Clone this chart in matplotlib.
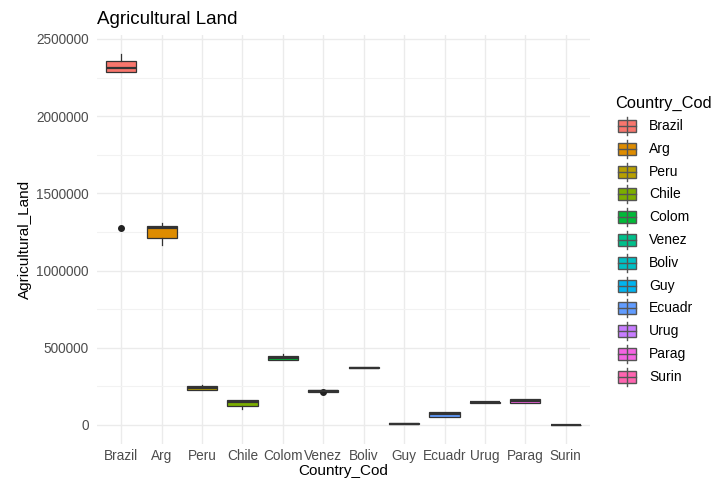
import matplotlib
matplotlib.use("Agg")
import matplotlib.pyplot as plt
from matplotlib.patches import Rectangle

plt.rcParams["font.family"] = ["Liberation Sans", "DejaVu Sans"]

countries = ["Brazil", "Arg", "Peru", "Chile", "Colom", "Venez",
             "Boliv", "Guy", "Ecuadr", "Urug", "Parag", "Surin"]
colors = ["#F8766D", "#DE8C00", "#B79F00", "#7CAE00", "#00BA38", "#00C08B",
          "#00BFC4", "#00B4F0", "#619CFF", "#C77CFF", "#F564E3", "#FF64B0"]

# box statistics
whis_lo = [2286000, 1166000, 227000, 104000, 423000, 216000, 366000, 6000, 54000, 144000, 144000, 1000]
q1 = [2286000, 1211000, 227000, 123000, 423000, 216000, 366000, 6000, 54000, 144000, 144000, 1000]
median = [2312000, 1276000, 240000, 149000, 436000, 220000, 371000, 8000, 70000, 149000, 156000, 2000]
q3 = [2357000, 1289000, 253000, 162000, 449000, 224000, 376000, 10000, 84000, 152000, 168000, 3000]
whis_hi = [2403000, 1308000, 259000, 162000, 462000, 224000, 376000, 10000, 84000, 152000, 168000, 3000]
fliers = [[1276000], [], [], [], [], [214000], [], [], [], [], [], []]

W, H = 713, 479
fig = plt.figure(figsize=(W / 100, H / 100), dpi=100)
ax = fig.add_axes([97 / W, 1 - 443.5 / H, (590 - 97) / W, (443.5 - 35.4) / H])

stats = []
for i in range(len(countries)):
    stats.append(dict(whislo=whis_lo[i], q1=q1[i], med=median[i], q3=q3[i],
                      whishi=whis_hi[i], fliers=fliers[i], label=countries[i]))

edge = "#333333"
bp = ax.bxp(stats, positions=range(1, 13), widths=0.75, patch_artist=True,
            showcaps=False,
            boxprops=dict(edgecolor=edge, linewidth=0.9),
            medianprops=dict(color=edge, linewidth=1.6),
            whiskerprops=dict(color=edge, linewidth=0.9),
            flierprops=dict(marker="o", markerfacecolor="#222222",
                            markeredgecolor="#222222", markersize=4))
for patch, c in zip(bp["boxes"], colors):
    patch.set_facecolor(c)

ax.set_xlim(0.4, 12.6)
ax.set_ylim(-120000, 2523000)
ax.set_yticks([0, 500000, 1000000, 1500000, 2000000, 2500000])
ax.set_yticklabels(["0", "500000", "1000000", "1500000", "2000000", "2500000"])
ax.set_yticks([250000, 750000, 1250000, 1750000, 2250000], minor=True)
ax.set_xticks(range(1, 13))
ax.set_xticklabels(countries)

for s in ax.spines.values():
    s.set_visible(False)
ax.tick_params(axis="both", which="both", length=0, labelsize=9.8, labelcolor="#4D4D4D")
ax.tick_params(axis="x", pad=4)
ax.tick_params(axis="y", pad=6)
ax.grid(True, which="major", color="#EBEBEB", linewidth=1.0)
ax.grid(True, which="minor", axis="y", color="#F2F2F2", linewidth=0.8)
ax.set_axisbelow(True)

ax.set_title("Agricultural Land", loc="left", fontsize=13.5, color="black", pad=8)
ax.set_ylabel("Agricultural_Land", fontsize=11, color="black", labelpad=3)
ax.set_xlabel("Country_Cod", fontsize=11, color="black", labelpad=1)

# legend drawn by hand in pixel space
lax = fig.add_axes([0, 0, 1, 1], facecolor="none")
lax.set_xlim(0, W)
lax.set_ylim(H, 0)
lax.axis("off")
lax.text(615, 103, "Country_Cod", fontsize=11.8, va="center", ha="left")
for i, (name, c) in enumerate(zip(countries, colors)):
    yc = 126 + i * 22.8
    lax.plot([627, 627], [yc - 9, yc + 9], color="#555555", lw=1.0)
    lax.add_patch(Rectangle((618, yc - 6), 18, 12, facecolor=c,
                            edgecolor="#555555", lw=1.0))
    lax.plot([618, 636], [yc, yc], color="#555555", lw=1.0)
    lax.text(649, yc, name, fontsize=10, va="center", ha="left")

fig.savefig("out.png", dpi=100)
